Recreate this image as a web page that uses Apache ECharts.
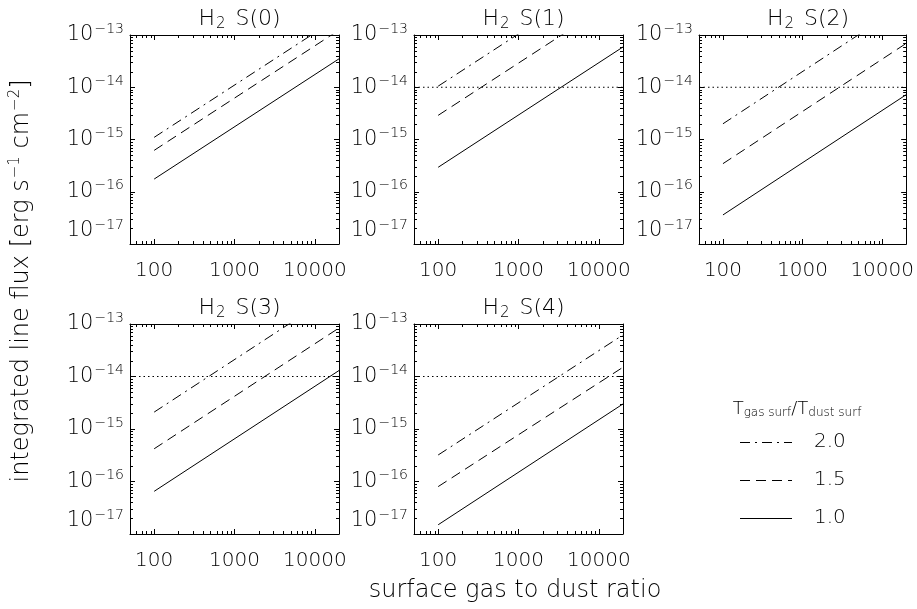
<!DOCTYPE html>
<html><head><meta charset="utf-8">
<script src="https://cdn.jsdelivr.net/npm/echarts@6/dist/echarts.min.js"></script>
<style>html,body{margin:0;padding:0;background:#fff}#c{width:917px;height:609px}</style>
</head><body><div id="c"></div>
<script>
// ---------------- data ----------------
const panelNames = ['S(0)', 'S(1)', 'S(2)', 'S(3)', 'S(4)'];
const xValues = [100, 20000];                     // gas-to-dust ratio at line ends
// flux at x = 100 and x = 20000 for each panel (T ratio 1.0 / 1.5 / 2.0)
const flux10 = [[1.75e-16, 3.5e-14], [2.94e-16, 5.9e-14], [3.6e-17, 7.2e-15], [6.5e-17, 1.3e-14], [1.5e-17, 3.0e-15]];
const flux15 = [[6.2e-16, 1.24e-13], [2.9e-15, 5.8e-13], [3.45e-16, 6.9e-14], [4.2e-16, 8.4e-14], [8.0e-17, 1.5e-14]];
const flux20 = [[1.1e-15, 2.2e-13], [1.05e-14, 2.1e-12], [2.0e-15, 4.0e-13], [2.1e-15, 4.2e-13], [3.2e-16, 6.2e-14]];
const detectionLimit = 1e-14;
const limitShown = [false, true, true, true, true];
const xTickLabels = [100, 1000, 10000];
const yTickExponents = [-17, -16, -15, -14, -13];
const legendLabels = ['2.0', '1.5', '1.0'];
const xMinorTicks = [60, 70, 80, 90, 200, 300, 400, 500, 600, 700, 800, 900, 2000, 3000, 4000, 5000, 6000, 7000, 8000, 9000];
const yMinorTicks = [2e-17, 3e-17, 4e-17, 5e-17, 6e-17, 7e-17, 8e-17, 9e-17,
  2e-16, 3e-16, 4e-16, 5e-16, 6e-16, 7e-16, 8e-16, 9e-16,
  2e-15, 3e-15, 4e-15, 5e-15, 6e-15, 7e-15, 8e-15, 9e-15,
  2e-14, 3e-14, 4e-14, 5e-14, 6e-14, 7e-14, 8e-14, 9e-14];
const X_MIN = 50, X_MAX = 20000, Y_MIN = 1e-17, Y_MAX = 1e-13;

// ---------------- layout ----------------
const FONT = 'DejaVu Sans';
const FW = 200;
const INK = '#000';
const grids = [
  { left: 130, top: 35, width: 209, height: 209 },
  { left: 414, top: 35, width: 209, height: 209 },
  { left: 699, top: 35, width: 208, height: 209 },
  { left: 130, top: 324, width: 209, height: 210 },
  { left: 414, top: 324, width: 209, height: 210 }
];
const DASH = [10, 6];
const DASHDOT = [10, 5, 2, 5];
const DOT = [1.5, 3];

function supMinus(n) { return n < 0 ? '\u2212' + (-n) : String(n); }

const xAxes = [], yAxes = [], series = [], titles = [];
grids.forEach((g, i) => {
  const common = {
    type: 'log', logBase: 10, gridIndex: i, min: X_MIN, max: X_MAX,
    axisLine: { show: true, lineStyle: { color: INK, width: 1 } },
    axisTick: { show: true, inside: true, length: 5, lineStyle: { color: INK } },
    minorTick: { show: false }, splitLine: { show: false }
  };
  xAxes.push(Object.assign({}, common, {
    position: 'bottom',
    axisLabel: {
      show: true, margin: 17, fontFamily: FONT, fontWeight: FW, fontSize: 20, color: INK,
      showMinLabel: false, showMaxLabel: false,
      formatter: v => xTickLabels.some(t => Math.abs(t - v) / t < 1e-6) ? String(Math.round(v)) : ''
    }
  }));
  xAxes.push(Object.assign({}, common, { position: 'top', axisLabel: { show: false } }));
  const ycommon = Object.assign({}, common, { min: Y_MIN, max: Y_MAX });
  yAxes.push(Object.assign({}, ycommon, {
    position: 'left',
    axisLabel: {
      show: true, margin: 6, fontFamily: FONT, fontWeight: FW, fontSize: 21, color: INK,
      verticalAlignMinLabel: 'bottom',
      formatter: v => {
        const e = Math.round(Math.log10(v));
        if (!yTickExponents.includes(e) || Math.abs(v / Math.pow(10, e) - 1) > 1e-6) return '';
        return '10{sup|' + supMinus(e) + '}';
      },
      rich: { sup: { fontFamily: FONT, fontWeight: FW, fontSize: 14, color: INK, padding: [0, 0, 12, 1] } }
    }
  }));
  yAxes.push(Object.assign({}, ycommon, { position: 'right', axisLabel: { show: false } }));

  const xa = 2 * i, ya = 2 * i;
  const mk = (pair, type, name) => ({
    type: 'line', name, xAxisIndex: xa, yAxisIndex: ya, clip: true, silent: true,
    symbol: 'none', animation: false,
    data: [[xValues[0], pair[0]], [xValues[1], pair[1]]],
    lineStyle: { color: INK, width: 1, type }
  });
  series.push(mk(flux10[i], 'solid', '1.0'));
  series.push(mk(flux15[i], DASH, '1.5'));
  series.push(mk(flux20[i], DASHDOT, '2.0'));
  if (limitShown[i]) {
    series.push({
      type: 'line', xAxisIndex: xa, yAxisIndex: ya, symbol: 'none', silent: true, animation: false,
      data: [[X_MIN, detectionLimit], [X_MAX, detectionLimit]],
      lineStyle: { color: INK, width: 1, type: DOT }
    });
  }
  // minor ticks drawn through the axes' own scales
  const minorData = xMinorTicks.map(v => [v, Y_MIN, 0]).concat(yMinorTicks.map(v => [X_MIN, v, 1]));
  series.push({
    type: 'custom', xAxisIndex: xa, yAxisIndex: ya, silent: true, animation: false,
    data: minorData,
    renderItem: (params, api) => {
      const kind = api.value(2);
      const L = 3;
      const st = { stroke: INK, lineWidth: 1 };
      if (kind === 0) {
        const b = api.coord([api.value(0), Y_MIN]);
        const t = api.coord([api.value(0), Y_MAX]);
        const x = Math.round(b[0]) + 0.5;
        return { type: 'group', children: [
          { type: 'line', shape: { x1: x, y1: b[1], x2: x, y2: b[1] - L }, style: st },
          { type: 'line', shape: { x1: x, y1: t[1], x2: x, y2: t[1] + L }, style: st }
        ] };
      } else {
        const l = api.coord([X_MIN, api.value(1)]);
        const r = api.coord([X_MAX, api.value(1)]);
        const y = Math.round(l[1]) + 0.5;
        return { type: 'group', children: [
          { type: 'line', shape: { x1: l[0], y1: y, x2: l[0] + L, y2: y }, style: st },
          { type: 'line', shape: { x1: r[0], y1: y, x2: r[0] - L, y2: y }, style: st }
        ] };
      }
    }
  });

  titles.push({
    text: 'H{sub|2} ' + panelNames[i],
    left: g.left + g.width / 2, top: g.top - 33, textAlign: 'center',
    textStyle: {
      fontFamily: FONT, fontSize: 22, fontWeight: FW, color: INK,
      rich: { sub: { fontFamily: FONT, fontWeight: FW, fontSize: 15, color: INK, padding: [10, 3, 0, 1] } }
    }
  });
});

// legend + axis titles as graphic elements
const legendY = [442, 480, 518];
const legendDash = [DASHDOT, DASH, null];
const graphic = [
  {
    type: 'text', x: 22, y: 281, rotation: Math.PI / 2,
    style: {
      text: 'integrated line flux [erg s{sup|\u22121} cm{sup|\u22122}]',
      x: 0, y: 0, align: 'center', verticalAlign: 'middle',
      font: FW + ' 24px "DejaVu Sans"', fill: INK,
      rich: { sup: { fontFamily: FONT, fontWeight: FW, fontSize: 15, fill: INK, padding: [0, 0, 13, 1] } }
    }
  },
  {
    type: 'text', x: 515, y: 591,
    style: { text: 'surface gas to dust ratio', align: 'center', verticalAlign: 'middle', font: FW + ' 24px "DejaVu Sans"', fill: INK }
  },
  {
    type: 'text', x: 797, y: 409,
    style: {
      text: 'T{sub|gas surf}/T{sub|dust surf}', align: 'center', verticalAlign: 'middle',
      font: FW + ' 18px "DejaVu Sans"', fill: INK,
      rich: { sub: { fontFamily: FONT, fontWeight: FW, fontSize: 12, fill: INK, padding: [8, 0, 0, 0] } }
    }
  }
];
legendLabels.forEach((lab, k) => {
  graphic.push({
    type: 'line', shape: { x1: 740, y1: legendY[k] + 0.5, x2: 792, y2: legendY[k] + 0.5 },
    style: { stroke: INK, lineWidth: 1, lineDash: legendDash[k] }
  });
  graphic.push({
    type: 'text', x: 814, y: legendY[k],
    style: { text: lab, align: 'left', verticalAlign: 'middle', font: FW + ' 20px "DejaVu Sans"', fill: INK }
  });
});

const chart = echarts.init(document.getElementById('c'), null, { renderer: 'canvas' });
chart.setOption({
  animation: false,
  backgroundColor: '#fff',
  title: titles,
  grid: grids.map(g => Object.assign({ containLabel: false }, g)),
  xAxis: xAxes,
  yAxis: yAxes,
  series,
  graphic
});
</script>
</body></html>
